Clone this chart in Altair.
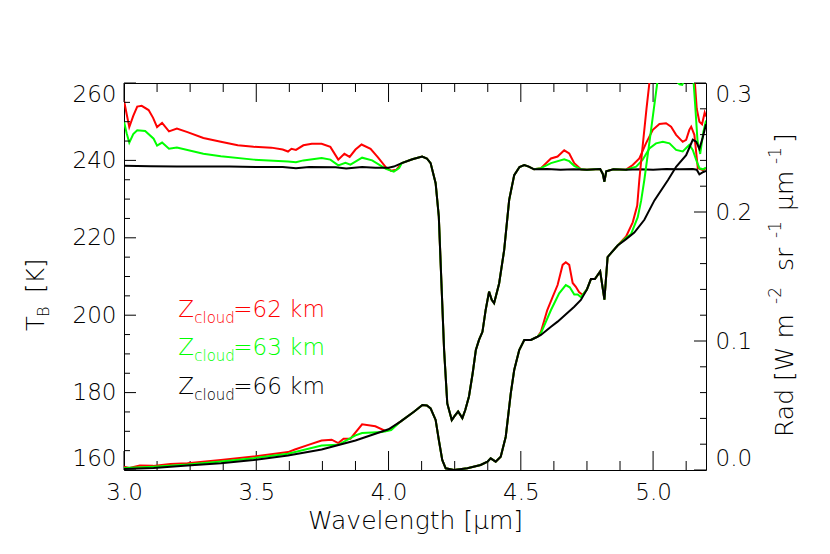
import altair as alt
import pandas as pd

FONT = "DejaVu Sans"
FW = 300

# ---------------- data ----------------
# Brightness temperature T_B [K]
tb66_pre_wl = [3.0, 3.1, 3.2, 3.3, 3.4, 3.5, 3.6, 3.65, 3.7, 3.8, 3.84, 3.9, 3.95, 4.0, 4.02]
tb66_pre = [238.6, 238.5, 238.4, 238.4, 238.4, 238.3, 238.3, 238.0, 238.3, 238.2, 237.9, 238.3, 238.1, 238.1, 238.4]

tb62_pre_wl = [3.0, 3.01, 3.02, 3.035, 3.05, 3.067, 3.093, 3.11, 3.125, 3.144, 3.17, 3.2, 3.24, 3.3,
               3.366, 3.43, 3.49, 3.557, 3.6, 3.62, 3.633, 3.65, 3.678, 3.71, 3.747, 3.78, 3.81,
               3.833, 3.853, 3.875, 3.898, 3.932, 3.96, 3.99, 4.01, 4.03]
tb62_pre = [255.5, 252.0, 248.6, 251.5, 253.9, 254.1, 253.0, 251.0, 248.6, 249.7, 247.5, 248.2, 247.3, 245.8,
            244.8, 243.9, 243.5, 243.3, 242.8, 242.3, 243.0, 242.7, 243.9, 244.3, 244.3, 243.5, 240.2,
            241.7, 240.9, 242.8, 244.1, 243.0, 240.8, 238.2, 237.3, 237.6]

tb63_pre_wl = [3.0, 3.01, 3.02, 3.035, 3.05, 3.08, 3.112, 3.125, 3.144, 3.17, 3.2, 3.3, 3.366, 3.49,
               3.62, 3.65, 3.678, 3.747, 3.78, 3.81, 3.837, 3.856, 3.9, 3.938, 3.99, 4.02, 4.04]
tb63_pre = [250.0, 247.0, 244.6, 246.8, 247.8, 247.6, 245.6, 243.8, 244.6, 243.0, 243.3, 241.7, 241.1, 240.2,
            239.7, 239.5, 240.0, 240.6, 240.2, 238.7, 239.4, 238.9, 240.7, 240.0, 237.8, 237.1, 238.0]

# CO2 band, where the three curves coincide
tb_band_wl = [4.05, 4.09, 4.127, 4.145, 4.159, 4.178, 4.19, 4.2, 4.21, 4.222, 4.239, 4.25, 4.263, 4.279,
              4.29, 4.304, 4.318, 4.33, 4.342, 4.355, 4.367, 4.38, 4.39, 4.399, 4.418, 4.437, 4.456,
              4.475, 4.495, 4.513, 4.53, 4.55]
tb_band = [239.3, 240.3, 241.0, 240.5, 239.3, 234.1, 225.5, 208.2, 191.0, 177.2, 172.9, 174.0, 175.1, 173.4,
           175.5, 179.0, 185.0, 191.0, 193.6, 195.7, 201.3, 206.1, 204.0, 203.1, 208.2, 216.8, 229.8,
           236.2, 238.3, 238.8, 238.4, 237.7]

tb_mid_wl = [4.75, 4.8, 4.81, 4.816, 4.823, 4.85, 4.898]
tb_mid = [237.6, 237.8, 236.5, 234.5, 237.2, 237.7, 237.6]

tb66_post1_wl = [4.6, 4.65, 4.7]
tb66_post1 = [237.8, 237.6, 237.7]
tb66_post2_wl = [4.95, 5.0, 5.05, 5.1, 5.15, 5.165, 5.175, 5.19, 5.2]
tb66_post2 = [237.7, 237.6, 237.8, 237.7, 237.8, 237.6, 236.4, 237.0, 237.3]

tb62_post1_wl = [4.576, 4.614, 4.639, 4.664, 4.683, 4.702, 4.727]
tb62_post1 = [238.0, 240.5, 241.0, 242.6, 241.8, 239.3, 237.7]
tb62_post2_wl = [4.923, 4.948, 4.973, 4.999, 5.024, 5.049, 5.068, 5.087, 5.112, 5.125, 5.137, 5.144,
                 5.156, 5.169, 5.188, 5.2]
tb62_post2 = [238.8, 240.5, 244.4, 247.9, 249.4, 249.6, 248.7, 246.6, 244.8, 245.3, 247.9, 248.7,
              246.6, 238.0, 237.5, 238.0]

tb63_post1_wl = [4.576, 4.614, 4.664, 4.683, 4.702, 4.727]
tb63_post1 = [238.0, 239.3, 240.3, 239.8, 238.6, 237.7]
tb63_post2_wl = [4.936, 4.96, 4.986, 5.011, 5.037, 5.062, 5.087, 5.112, 5.137, 5.15, 5.163, 5.175, 5.188, 5.2]
tb63_post2 = [238.4, 240.1, 243.1, 244.4, 244.8, 244.4, 242.7, 242.3, 244.0, 242.7, 240.1, 238.0, 237.7, 238.1]

# Radiance [W m-2 sr-1 um-1]
rad66_pre_wl = [3.0, 3.112, 3.24, 3.366, 3.49, 3.62, 3.747, 3.875, 4.0]
rad66_pre = [0.0008, 0.0016, 0.0034, 0.0053, 0.0078, 0.0112, 0.0159, 0.0229, 0.0316]

rad62_pre_wl = [3.0, 3.02, 3.06, 3.11, 3.175, 3.24, 3.366, 3.49, 3.62, 3.646, 3.697, 3.747, 3.785, 3.81,
                3.83, 3.856, 3.9, 3.95, 3.99, 4.01]
rad62_pre = [0.0026, 0.0016, 0.0034, 0.0032, 0.0047, 0.0053, 0.0078, 0.0105, 0.0139, 0.0159, 0.0195, 0.0229,
             0.0235, 0.0209, 0.0243, 0.0243, 0.0354, 0.0339, 0.0302, 0.0320]

rad63_pre_wl = [3.0, 3.112, 3.24, 3.366, 3.49, 3.62, 3.747, 3.81, 3.875, 3.9, 3.976, 4.01]
rad63_pre = [0.0016, 0.0026, 0.0042, 0.0066, 0.0092, 0.0126, 0.019, 0.0195, 0.0268, 0.0287, 0.0295, 0.031]

rad_band_wl = [4.045, 4.096, 4.128, 4.145, 4.159, 4.178, 4.19, 4.203, 4.216, 4.247, 4.298, 4.348, 4.374,
               4.386, 4.405, 4.424, 4.443, 4.462, 4.475, 4.494, 4.513, 4.538, 4.563]
rad_band = [0.0375, 0.0452, 0.0504, 0.0500, 0.0478, 0.0388, 0.0233, 0.0078, 0.0013, 0.0, 0.0013, 0.0039, 0.0065,
            0.0090, 0.0065, 0.0103, 0.0258, 0.0594, 0.0775, 0.0930, 0.1008, 0.1008, 0.1033]

rad_mid_wl = [4.75, 4.765, 4.78, 4.8, 4.816, 4.828, 4.84, 4.866]
rad_mid = [0.140, 0.148, 0.148, 0.154, 0.132, 0.165, 0.168, 0.174]

rad66_post1_wl = [4.576, 4.614, 4.639, 4.702, 4.727]
rad66_post1 = [0.1047, 0.111, 0.115, 0.1266, 0.1318]
rad66_post2_wl = [4.898, 4.929, 4.967, 5.005, 5.057, 5.087, 5.125, 5.15, 5.163, 5.175, 5.188, 5.2]
rad66_post2 = [0.179, 0.184, 0.194, 0.209, 0.225, 0.235, 0.244, 0.256, 0.2545, 0.249, 0.258, 0.268]

rad62_post1_wl = [4.576, 4.6, 4.62, 4.639, 4.658, 4.67, 4.683, 4.696, 4.708, 4.72, 4.734]
rad62_post1 = [0.1072, 0.124, 0.134, 0.1434, 0.159, 0.161, 0.159, 0.145, 0.142, 0.138, 0.1357]
rad62_post2_wl = [4.898, 4.923, 4.94, 4.948, 4.96, 4.975, 4.986, 5.0, 5.025, 5.05, 5.07, 5.09, 5.112, 5.125,
                  5.144, 5.152, 5.158, 5.165, 5.175, 5.185, 5.195, 5.2]
rad62_post2 = [0.181, 0.192, 0.205, 0.225, 0.25, 0.28, 0.30, 0.345, 0.385, 0.39, 0.38, 0.355, 0.34, 0.35,
               0.41, 0.36, 0.30, 0.28, 0.27, 0.268, 0.277, 0.274]

rad63_post1_wl = [4.576, 4.614, 4.645, 4.67, 4.685, 4.702, 4.715, 4.727]
rad63_post1 = [0.106, 0.124, 0.137, 0.1434, 0.1416, 0.136, 0.136, 0.134]
rad63_post2_wl = [4.898, 4.917, 4.942, 4.955, 4.967, 4.99, 5.017, 5.04, 5.06, 5.085, 5.1, 5.11, 5.125, 5.14,
                  5.15, 5.16, 5.168, 5.178, 5.19, 5.2]
rad63_post2 = [0.180, 0.183, 0.196, 0.209, 0.225, 0.26, 0.302, 0.31, 0.31, 0.302, 0.299, 0.2985, 0.305, 0.32,
               0.31, 0.28, 0.255, 0.245, 0.262, 0.271]

# axis ticks
x_major = [3.0, 3.5, 4.0, 4.5, 5.0]
x_minor = [3.125, 3.25, 3.375, 3.625, 3.75, 3.875, 4.125, 4.25, 4.375, 4.625, 4.75, 4.875, 5.125]
tb_major = [160, 180, 200, 220, 240, 260]
tb_minor = [165, 170, 175, 185, 190, 195, 205, 210, 215, 225, 230, 235, 245, 250, 255]
rad_major = [0.0, 0.1, 0.2, 0.3]
rad_minor = [0.02, 0.04, 0.06, 0.08, 0.12, 0.14, 0.16, 0.18, 0.22, 0.24, 0.26, 0.28]

series_names = ["Z62", "Z63", "Z66"]
series_colors = ["#ff0000", "#00ff00", "#000000"]
legend_text = ["=62  km", "=63  km", "=66  km"]
legend_wl = [3.205, 3.205, 3.205]
legend_tb = [199.6, 189.6, 179.6]

# ---------------- assemble ----------------
tb_sets = {
    "Z62": (tb62_pre_wl + tb_band_wl + tb62_post1_wl + tb_mid_wl + tb62_post2_wl,
            tb62_pre + tb_band + tb62_post1 + tb_mid + tb62_post2),
    "Z63": (tb63_pre_wl + tb_band_wl + tb63_post1_wl + tb_mid_wl + tb63_post2_wl,
            tb63_pre + tb_band + tb63_post1 + tb_mid + tb63_post2),
    "Z66": (tb66_pre_wl + tb_band_wl + tb66_post1_wl + tb_mid_wl + tb66_post2_wl,
            tb66_pre + tb_band + tb66_post1 + tb_mid + tb66_post2),
}
rad_sets = {
    "Z62": (rad62_pre_wl + rad_band_wl + rad62_post1_wl + rad_mid_wl + rad62_post2_wl,
            rad62_pre + rad_band + rad62_post1 + rad_mid + rad62_post2),
    "Z63": (rad63_pre_wl + rad_band_wl + rad63_post1_wl + rad_mid_wl + rad63_post2_wl,
            rad63_pre + rad_band + rad63_post1 + rad_mid + rad63_post2),
    "Z66": (rad66_pre_wl + rad_band_wl + rad66_post1_wl + rad_mid_wl + rad66_post2_wl,
            rad66_pre + rad_band + rad66_post1 + rad_mid + rad66_post2),
}

W, H = 582, 387
AX = "#000000"
x_scale = alt.Scale(domain=[3.0, 5.2], nice=False, zero=False)
tb_scale = alt.Scale(domain=[160, 260], nice=False, zero=False)
rad_scale = alt.Scale(domain=[0.0, 0.3], nice=False, zero=False)
col_scale = alt.Scale(domain=series_names, range=series_colors)

x_axis = alt.Axis(values=x_major, format=".1f", ticks=False, domain=False, grid=False,
                  labelFont=FONT, labelFontSize=23, labelFontWeight=FW, labelColor="black",
                  labelPadding=11, labelFlush=False,
                  title="Wavelength [\u03bcm]", titleFont=FONT, titleFontSize=25,
                  titleFontWeight=FW, titleColor="black", titlePadding=4)
tb_axis = alt.Axis(orient="left", values=tb_major, format="d", ticks=False, domain=False, grid=False,
                   labelFont=FONT, labelFontSize=23, labelFontWeight=FW, labelColor="black",
                   labelPadding=8, labelFlush=True, labelFlushOffset=0, title="")
rad_axis = alt.Axis(orient="right", values=rad_major, format=".1f", ticks=False, domain=False, grid=False,
                    labelFont=FONT, labelFontSize=23, labelFontWeight=FW, labelColor="black",
                    labelPadding=9, labelFlush=True, labelFlushOffset=0, title="")

XE = lambda: alt.X("wl:Q", scale=x_scale, axis=x_axis)
YT = lambda: alt.Y("val:Q", scale=tb_scale, axis=tb_axis)
YR = lambda: alt.Y("val:Q", scale=rad_scale, axis=rad_axis)

# T_B layers
tb_layers = []
for name, col in zip(series_names, series_colors):
    wl, v = tb_sets[name]
    df = pd.DataFrame({"wl": wl, "val": v})
    tb_layers.append(
        alt.Chart(df).mark_line(color=col, strokeWidth=2, clip=True).encode(x=XE(), y=YT())
    )

def xticks(vals, length):
    d = pd.DataFrame({"wl": vals})
    bot = alt.Chart(d).mark_rule(color=AX, strokeWidth=1).encode(
        x=XE(), y=alt.value(H), y2=alt.value(H - length))
    top = alt.Chart(d).mark_rule(color=AX, strokeWidth=1).encode(
        x=XE(), y=alt.value(0), y2=alt.value(length))
    return [bot, top]

def tbticks(vals, length):
    d = pd.DataFrame({"val": vals})
    return [alt.Chart(d).mark_rule(color=AX, strokeWidth=1).encode(
        y=YT(), x=alt.value(0), x2=alt.value(length))]

def radticks(vals, length):
    d = pd.DataFrame({"val": vals})
    return [alt.Chart(d).mark_rule(color=AX, strokeWidth=1).encode(
        y=YR(), x=alt.value(W), x2=alt.value(W - length))]

tb_layers += xticks(x_major, 19) + xticks(x_minor, 9) + tbticks(tb_major, 12) + tbticks(tb_minor, 6)

# in-plot labels
leg = pd.DataFrame({"wl": legend_wl, "val": legend_tb, "series": series_names, "rest": legend_text,
                    "z": ["Z", "Z", "Z"], "sub": ["cloud", "cloud", "cloud"]})
for field, size, dx, dy in [("z", 23, 0, 0), ("sub", 15, 16, 6), ("rest", 23, 55, 0)]:
    tb_layers.append(
        alt.Chart(leg).mark_text(font=FONT, fontSize=size, fontWeight=FW, align="left",
                                 baseline="alphabetic", dx=dx, dy=dy).encode(
            x=XE(), y=YT(),
            text=alt.Text(f"{field}:N"),
            color=alt.Color("series:N", scale=col_scale, legend=None),
        )
    )

# axis titles built from pieces (sub/superscripts)
title_pieces = [
    # text, x, y, size (pixels relative to plot area, rotated text reading upward)
    ("T", -80, 248, 24), ("B", -75, 234, 16), ("[K]", -80, 210, 24),
    ("Rad [W m", 669, 354, 25), ("-2", 657, 221, 17), ("sr", 669, 188, 25), ("-1", 657, 155, 17),
    ("\u03bcm", 669, 128, 25), ("-1", 657, 81, 17), ("]", 669, 60, 25),
]
for t, px, py, size in title_pieces:
    tb_layers.append(
        alt.Chart(pd.DataFrame({"t": [t]})).mark_text(
            font=FONT, fontSize=size, fontWeight=FW, angle=270, align="left",
            baseline="alphabetic", color="black"
        ).encode(text="t:N", x=alt.value(px), y=alt.value(py))
    )

# Radiance layers
rad_layers = []
for name, col in zip(series_names, series_colors):
    wl, v = rad_sets[name]
    df = pd.DataFrame({"wl": wl, "val": v})
    rad_layers.append(
        alt.Chart(df).mark_line(color=col, strokeWidth=2, clip=True).encode(x=XE(), y=YR())
    )
rad_layers += radticks(rad_major, 12) + radticks(rad_minor, 6)

chart = alt.layer(
    alt.layer(*tb_layers),
    alt.layer(*rad_layers),
).resolve_scale(y="independent").properties(
    width=W, height=H,
    autosize=alt.AutoSizeParams(type="none"),
    padding={"left": 116, "top": 75, "right": 116, "bottom": 76},
    background="white",
).configure_view(stroke="black", strokeWidth=1)

chart.save("out.html", embed_options={"renderer": "svg", "actions": False})
